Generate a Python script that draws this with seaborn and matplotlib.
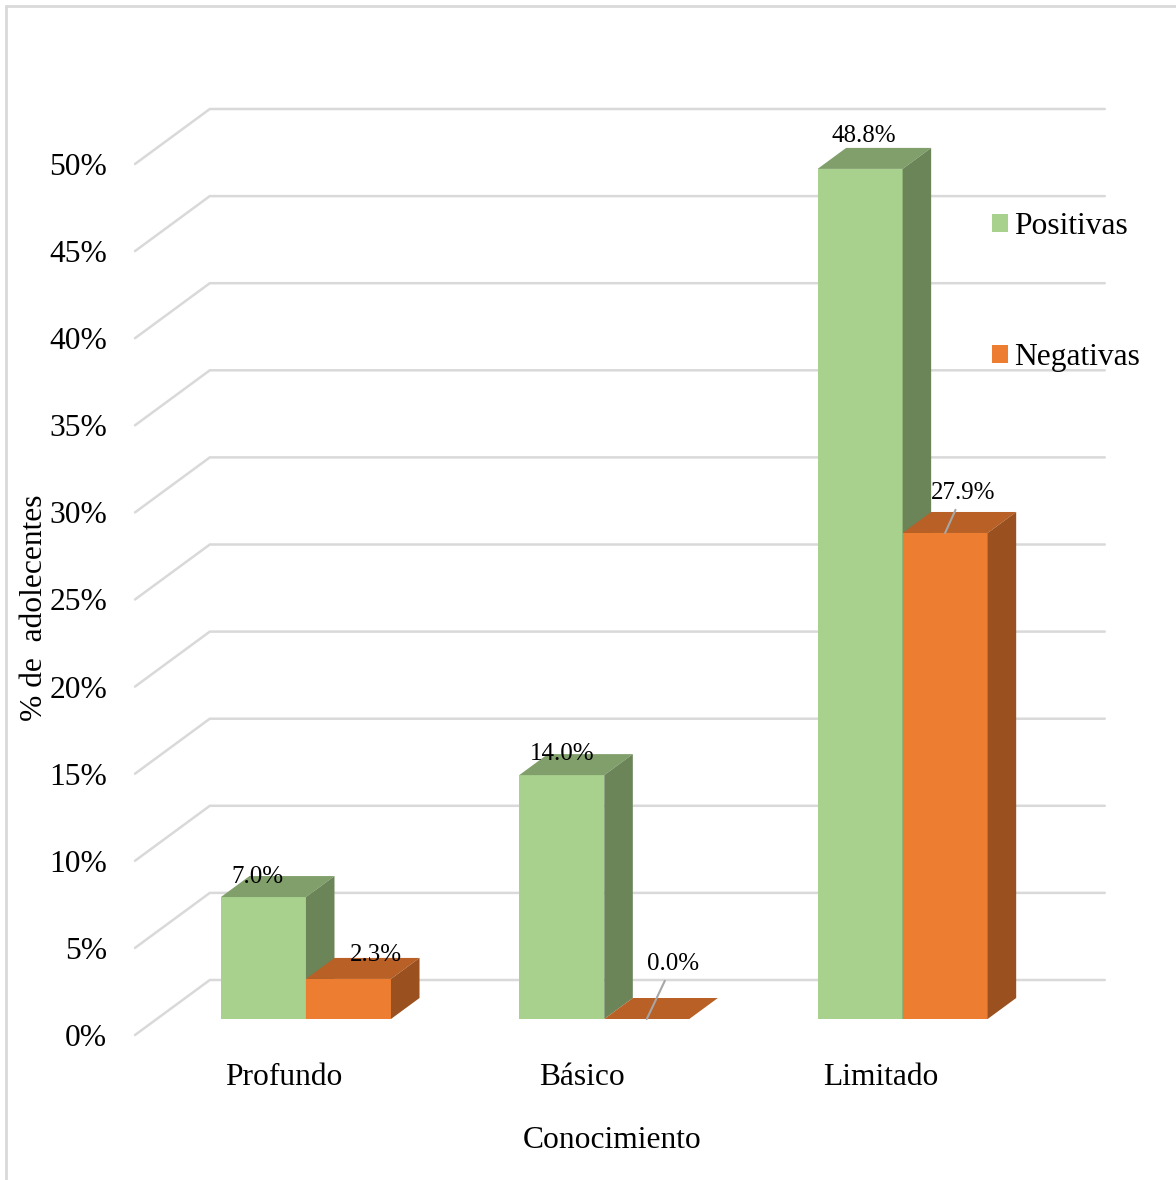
import numpy as np
import pandas as pd
import matplotlib
matplotlib.use('Agg')
import matplotlib.pyplot as plt
from matplotlib.patches import Polygon, Patch
from matplotlib.lines import Line2D
import seaborn as sns

# ------------------------------
# DATA
# ------------------------------
categories = ['Profundo', 'Básico', 'Limitado']
series = ['Positivas', 'Negativas']
positivas = [7.0, 14.0, 48.8]
negativas = [2.3, 0.0, 27.9]
yticks = [0, 5, 10, 15, 20, 25, 30, 35, 40, 45, 50]

df = pd.DataFrame({
    'Conocimiento': categories * 2,
    'serie': [series[0]] * 3 + [series[1]] * 3,
    'valor': positivas + negativas,
})

# ------------------------------
# STYLE
# ------------------------------
FRONT = {'Positivas': '#A9D18E', 'Negativas': '#ED7D31'}
TOP = {'Positivas': '#809F6B', 'Negativas': '#B86025'}
SIDE = {'Positivas': '#6B8559', 'Negativas': '#9A511F'}
GRID = '#D9D9D9'
DPI = 100
W, H = 1176, 1180
FS = 22.7          # axis text size
FS_VAL = 18        # value labels

# pseudo-3d depth (pixels up along the floor); horizontal slope per px
K = 1.36
T_FRONT, T_BACK, T_WALL = 16, 37, 55

# label shifts from bar front-top centre (px right, px up); leader flag
LABEL_SHIFT = [(-6, 20), (0, 21), (4, 33), (27, 24), (26, 55), (18, 40)]
LEADER = [False, False, False, False, True, True]

sns.set_style('white')
plt.rcParams['font.family'] = ['Liberation Serif', 'DejaVu Serif']
plt.rcParams['text.color'] = 'black'
plt.rcParams['xtick.color'] = 'black'
plt.rcParams['ytick.color'] = 'black'
plt.rcParams['axes.labelcolor'] = 'black'

fig = plt.figure(figsize=(W / DPI, H / DPI), dpi=DPI)
ax = fig.add_axes([135 / W, (H - 1035) / H, 895 / W, 871 / H])

sns.barplot(data=df, x='Conocimiento', y='valor', hue='serie',
            hue_order=series, order=categories, palette=FRONT,
            saturation=1, width=0.57, linewidth=0, legend=False, ax=ax)
ax.set_xlim(-0.5, 2.5)
ax.set_ylim(0, 50)


def px(dx, dy):
    """pixel offset -> data offset"""
    inv = ax.transData.inverted()
    x0, y0 = inv.transform((0, 0))
    x1, y1 = inv.transform((dx, dy))
    return x1 - x0, y1 - y0


def depth(t):
    return px(K * t, t)


# gridlines: floor front -> back wall
wx, wy = depth(T_WALL)
for v in yticks:
    ax.plot([-0.5, -0.5 + wx, 2.5 + wx], [v, v + wy, v + wy],
            color=GRID, lw=1.8, zorder=0.5, clip_on=False,
            solid_joinstyle='miter')

# move bars behind the floor front and add top / side faces
fx, fy = depth(T_FRONT)
bx, by = depth(T_BACK)
bx, by = bx - fx, by - fy
n = len(categories)
for i, p in enumerate(ax.patches[:2 * n]):
    s = series[i // n]
    z = 2 + i // n
    x0, w, h = p.get_x(), p.get_width(), p.get_height()
    p.set_x(x0 + fx)
    p.set_y(fy)
    p.set_zorder(z)
    p.set_clip_on(False)
    xl, xr, yb, yt = x0 + fx, x0 + fx + w, fy, fy + h
    top = Polygon([(xl, yt), (xr, yt), (xr + bx, yt + by), (xl + bx, yt + by)],
                  closed=True, facecolor=TOP[s], edgecolor='none',
                  zorder=z, clip_on=False)
    ax.add_patch(top)
    if h > 0:
        side = Polygon([(xr, yb), (xr, yt), (xr + bx, yt + by), (xr + bx, yb + by)],
                       closed=True, facecolor=SIDE[s], edgecolor='none',
                       zorder=z, clip_on=False)
        ax.add_patch(side)
    sx, sy = LABEL_SHIFT[i]
    arrow = dict(arrowstyle='-', color='#A6A6A6', lw=1.5,
                 shrinkA=2, shrinkB=0) if LEADER[i] else None
    ax.annotate(f'{h:.1f}%', xy=(xl + w / 2, yt), xycoords='data',
                xytext=(sx * 72 / DPI, sy * 72 / DPI), textcoords='offset points',
                ha='center', va='center', fontsize=FS_VAL, color='black',
                zorder=5, annotation_clip=False, arrowprops=arrow)

# axes text
ax.set_yticks(yticks)
ax.set_yticklabels([f'{v}%' for v in yticks], fontsize=FS)
ax.set_xticks(range(n))
ax.set_xticklabels(categories, fontsize=FS)
ax.tick_params(axis='y', length=0, pad=20)
ax.tick_params(axis='x', length=0, pad=20)
ax.set_xlabel('Conocimiento', fontsize=FS, labelpad=25)
ax.set_ylabel('% de  adolecentes', fontsize=FS, labelpad=0)
ax.xaxis.label.set_x(0.533)
ax.yaxis.label.set_y(0.491)
for sp in ax.spines.values():
    sp.set_visible(False)
ax.patch.set_alpha(0)

handles = [Patch(facecolor=FRONT[s], edgecolor='none', label=s) for s in series]
ax.legend(handles=handles, loc='upper left', bbox_to_anchor=(992 / W, 1 - 212 / H),
          bbox_transform=fig.transFigure, frameon=False, fontsize=FS,
          handlelength=0.5, handleheight=0.5, handletextpad=0.2,
          labelspacing=3.25, borderpad=0, borderaxespad=0)

# chart area border (top / left visible)
fig.add_artist(Line2D([6 / W, 6 / W], [0, 1 - 6 / H], transform=fig.transFigure,
                      color=GRID, lw=2))
fig.add_artist(Line2D([6 / W, 1], [1 - 6 / H, 1 - 6 / H], transform=fig.transFigure,
                      color=GRID, lw=2))

fig.savefig('out.png', dpi=DPI, facecolor='white')
